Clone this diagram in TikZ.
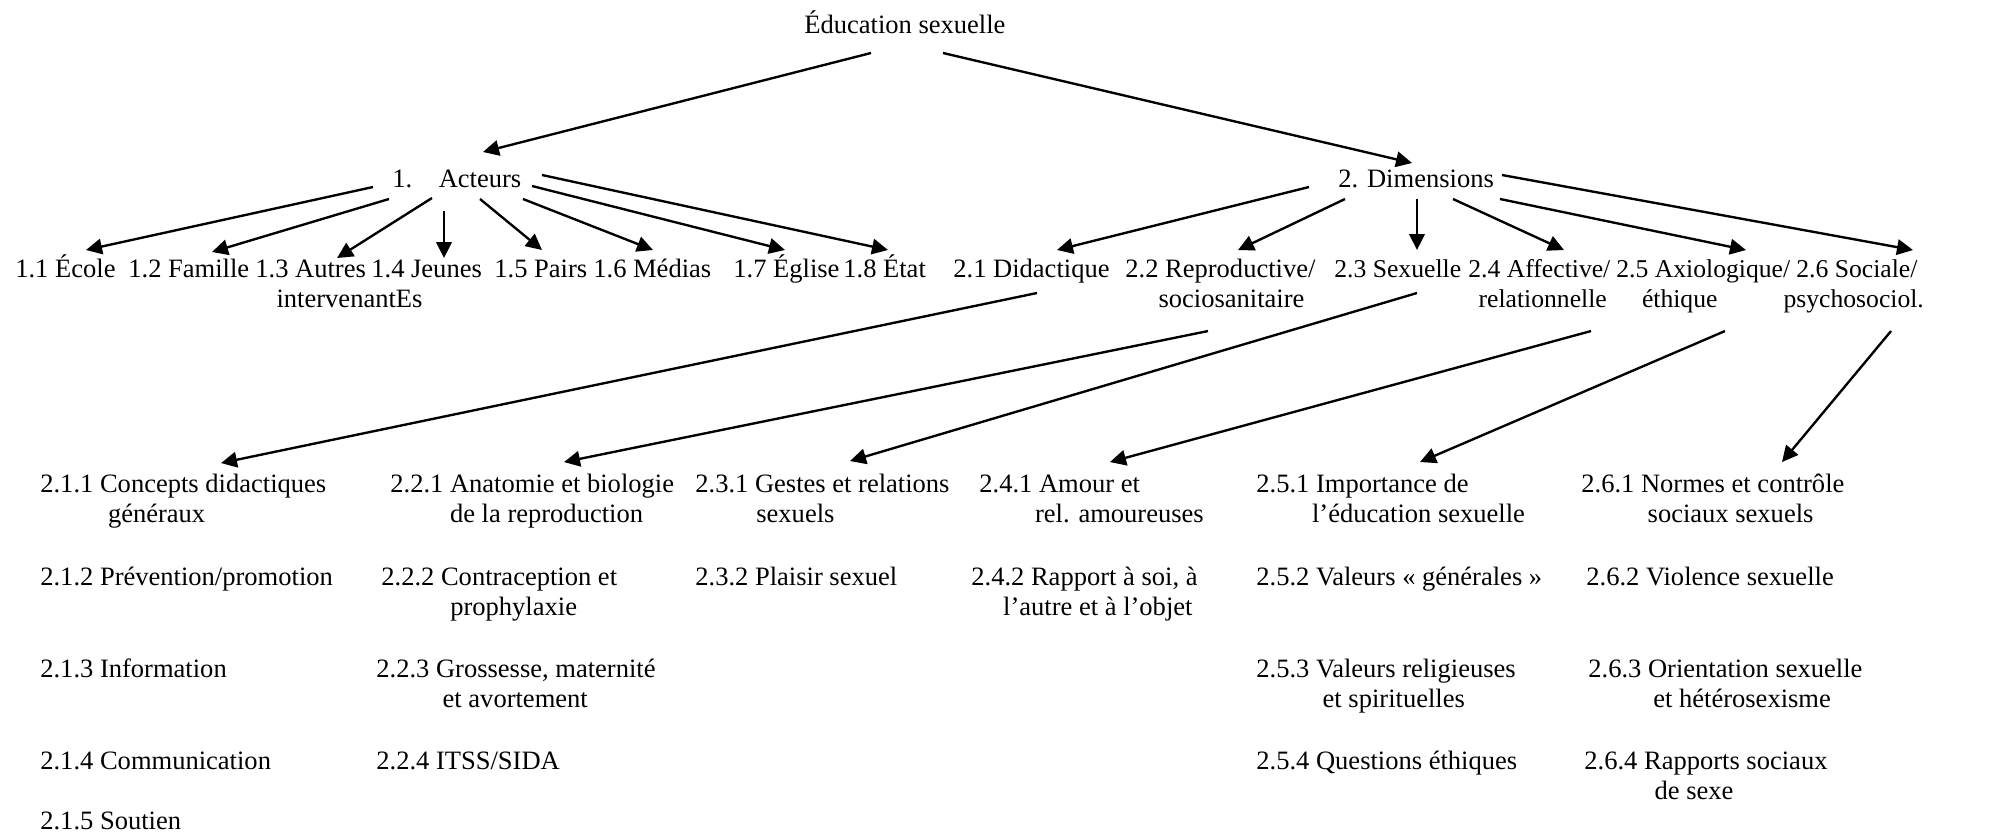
\documentclass[tikz,border=0pt]{standalone}
\usepackage{fontspec}
\setmainfont{Liberation Serif}
\usepackage{tikz}
\usetikzlibrary{arrows.meta}

\begin{document}
\begin{tikzpicture}[x=0.02cm,y=-0.02cm,font=\fontsize{15.1}{17.1}\selectfont,
  txt/.style={anchor=base west,inner sep=0pt,align=left},
  two/.style={txt,yshift=-17.1pt},
  narrow/.style={font=\fontsize{14.6}{17.1}\selectfont},
  arr/.style={-{Triangle[length=3.2mm,width=3.1mm]},line width=1.35pt}]
\useasboundingbox (0,0) rectangle (1996,835);
% root and the two branches
\node[txt] (edu) at (804,33) {Éducation sexuelle};
\node[txt] (act) at (392,187) {1.\quad Acteurs};
\node[txt] (dim) at (1338,187) {2. Dimensions};
% actors
\node[txt] (e11) at (15,277) {1.1 École};
\node[txt] (e12) at (128,277) {1.2 Famille};
\node[two] (e13) at (255,277) {1.3 Autres\\\hspace*{0.8em}intervenantEs};
\node[txt] (e14) at (371,277) {1.4 Jeunes};
\node[txt] (e15) at (494,277) {1.5 Pairs};
\node[txt] (e16) at (593,277) {1.6 Médias};
\node[txt] (e17) at (733,277) {1.7 Église};
\node[txt] (e18) at (843,277) {1.8 État};
% dimensions
\node[txt] (d21) at (953,277) {2.1 Didactique};
\node[two] (d22) at (1125,277) {2.2 Reproductive/\\\hspace*{1.25em}sociosanitaire};
\node[txt,narrow] (d23) at (1334,277) {2.3 Sexuelle};
\node[two,narrow] (d24) at (1468,277) {2.4 Affective/\\\hspace*{0.4em}relationnelle};
\node[two,narrow] (d25) at (1616,277) {2.5 Axiologique/\\\hspace*{1em}éthique};
\node[two,narrow] (d26) at (1796,277) {2.6 Sociale/\\\hspace*{-0.5em}psychosociol.};
% sub-dimensions
\node[two] (t211) at (40,492) {2.1.1 Concepts didactiques\\\hspace*{2.55em}généraux};
\node[txt] (t212) at (40,585) {2.1.2 Prévention/promotion};
\node[txt] (t213) at (40,677) {2.1.3 Information};
\node[txt] (t214) at (40,769) {2.1.4 Communication};
\node[txt] (t215) at (40,829) {2.1.5 Soutien};
\node[two] (t221) at (390,492) {2.2.1 Anatomie et biologie\\\hspace*{2.25em}de la reproduction};
\node[two] (t222) at (381,585) {2.2.2 Contraception et\\\hspace*{2.6em}prophylaxie};
\node[two] (t223) at (376,677) {2.2.3 Grossesse, maternité\\\hspace*{2.5em}et avortement};
\node[txt] (t224) at (376,769) {2.2.4 ITSS/SIDA};
\node[two] (t231) at (695,492) {2.3.1 Gestes et relations\\\hspace*{2.3em}sexuels};
\node[txt] (t232) at (695,585) {2.3.2 Plaisir sexuel};
\node[two] (t241) at (979,492) {2.4.1 Amour et\\\hspace*{2.1em}rel. amoureuses};
\node[two] (t242) at (971,585) {2.4.2 Rapport à soi, à\\\hspace*{1.2em}l’autre et à l’objet};
\node[two] (t251) at (1256,492) {2.5.1 Importance de\\\hspace*{2.1em}l’éducation sexuelle};
\node[txt] (t252) at (1256,585) {2.5.2 Valeurs «~générales~»};
\node[two] (t253) at (1256,677) {2.5.3 Valeurs religieuses\\\hspace*{2.5em}et spirituelles};
\node[txt] (t254) at (1256,769) {2.5.4 Questions éthiques};
\node[two] (t261) at (1581,492) {2.6.1 Normes et contrôle\\\hspace*{2.5em}sociaux sexuels};
\node[txt] (t262) at (1586,585) {2.6.2 Violence sexuelle};
\node[two] (t263) at (1588,677) {2.6.3 Orientation sexuelle\\\hspace*{2.45em}et hétérosexisme};
\node[two] (t264) at (1584,769) {2.6.4 Rapports sociaux\\\hspace*{2.65em}de sexe};
% arrows (shifts from the base line of the last text line)
\draw[arr] ([shift={(67,20)}]edu.base west) -- ([shift={(91,-35)}]act.base west);
\draw[arr] ([shift={(139,20)}]edu.base west) -- ([shift={(74,-24)}]dim.base west);
\foreach \c/\sx/\sy/\ex/\ey in {e11/-19/0/71/-27,e12/-3/12/84/-25,e13/40/11/82/-49,
    e14/52/24/73/-19,e15/88/12/48/-27,e16/131/12/60/-27,e17/140/-1/52/-27,e18/150/-12/45/-27}
  {\draw[arr] ([shift={(\sx,\sy)}]act.base west) -- ([shift={(\ex,\ey)}]\c.base west);}
\foreach \c/\sx/\sy/\ex/\ey in {d21/-29/0/104/-27,d22/7/12/113/-57,d23/79/12/83/-27,
    d24/115/12/96/-57,d25/162/12/130/-57,d26/164/-12/117/-57}
  {\draw[arr] ([shift={(\sx,\sy)}]dim.base west) -- ([shift={(\ex,\ey)}]\c.base west);}
\foreach \p/\c/\sx/\sy/\ex/\ey in {d21/t211/84/16/181/-59,d22/t221/83/24/174/-60,
    d23/t231/83/16/155/-61,d24/t241/123/24/131/-60,d25/t251/109/24/164/-60,d26/t261/95/24/201/-60}
  {\draw[arr] ([shift={(\sx,\sy)}]\p.base west) -- ([shift={(\ex,\ey)}]\c.base west);}
\end{tikzpicture}
\end{document}
